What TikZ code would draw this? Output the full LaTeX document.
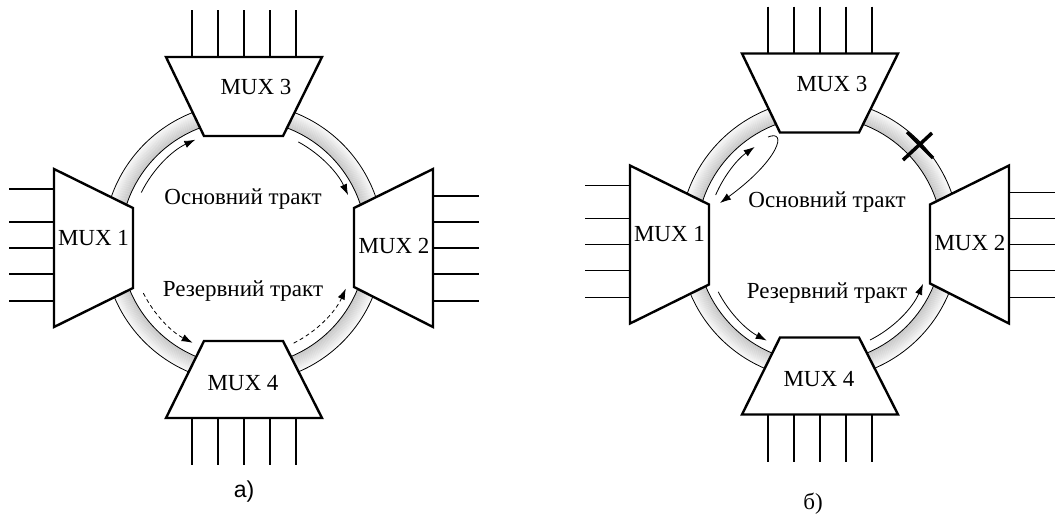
\documentclass[tikz,border=0pt]{standalone}
\usepackage{fontspec}
\setmainfont{Liberation Serif}
\newfontfamily\arialf{Liberation Sans}
\usetikzlibrary{arrows.meta,calc}
\newcommand\muxdiag[1]{%
  \coordinate (#1c) at (243.5,243);
  \foreach \i in {0,...,16} {%
    \pgfmathsetmacro\rr{123.5+\i}%
    \pgfmathsetmacro\gg{22-1.2*\i}%
    \draw[line width=1.15pt, black!\gg] (#1c) circle[radius=\rr];
  }
  \draw[ringline] (#1c) circle[radius=140] (#1c) circle[radius=123];
  % MUX 1
  \draw[mux] (54,169) -- (133,208) -- (133,288) -- (54,327) -- cycle;
  \foreach \yy in {189,222,248,274,301} \draw[io] (9,\yy) -- (54,\yy);
  \node[lbl] (#1m1) at (93.5,238) {MUX 1};
  % MUX 2
  \draw[mux] (433,169) -- (354,208) -- (354,287) -- (433,327) -- cycle;
  \foreach \yy in {196,222,248,274,301} \draw[io] (433,\yy) -- (479,\yy);
  \node[lbl] (#1m2) at (394,246) {MUX 2};
  % MUX 3
  \draw[mux] (166,57) -- (322,57) -- (283,136) -- (204,136) -- cycle;
  \foreach \xx in {192,218,244,270,296} \draw[io] (\xx,10) -- (\xx,57);
  \node[lbl] (#1m3) at (256,87) {MUX 3};
  % MUX 4
  \draw[mux] (204,341) -- (283,341) -- (322,418) -- (166,418) -- cycle;
  \foreach \xx in {192,218,244,270,296} \draw[io] (\xx,418) -- (\xx,465);
  \node[lbl] (#1m4) at (243,383) {MUX 4};
}
\begin{document}
\begin{tikzpicture}[x=1pt,y=-1pt,
  mux/.style={draw, line width=2.4pt, fill=white, line join=miter},
  io/.style={line width=1.3pt},
  ringline/.style={line width=0.8pt},
  lbl/.style={font=\fontsize{23}{25}\selectfont, inner sep=0pt},
  flow/.style={line width=0.8pt, -{Latex[length=11pt,width=7.5pt]}},
  dflow/.style={flow, dash pattern=on 4pt off 3pt}]
\useasboundingbox (0,0) rectangle (1057,523);
% ---------- a) ----------
\muxdiag{a}
\coordinate (ap1) at ($(ac)+(-153.7:114)$);
\coordinate (ap2) at ($(ac)+(-61.5:115)$);
\coordinate (ap3) at ($(ac)+(-206.6:112)$);
\coordinate (ap4) at ($(ac)+(-296.6:112)$);
\draw[flow] (ap1) arc[start angle=-153.7, end angle=-115, radius=114];
\draw[flow] (ap2) arc[start angle=-61.5, end angle=-24.6, radius=115];
\draw[dflow] (ap3) arc[start angle=-206.6, end angle=-243, radius=112];
\draw[dflow] (ap4) arc[start angle=-296.6, end angle=-336, radius=112];
\node[lbl] (amain) at (243,199) {Основний тракт};
\node[lbl] (aresv) at (243,291) {Резервний тракт};
\node[lbl, font=\arialf\fontsize{23}{25}\selectfont] (alab) at (244,492) {a)};
% ---------- б) ----------
\begin{scope}[shift={(576,-3.5)}]
\muxdiag{b}
\end{scope}
\coordinate (bp1) at ($(bc)+(-156.8:113)$);
\coordinate (bp3) at ($(bc)+(-207.3:114)$);
\coordinate (bp4) at ($(bc)+(-296.7:112.5)$);
\coordinate (bq1) at (768,137);
\coordinate (bq2) at (720,203);
\draw[flow] (bp1) arc[start angle=-156.8, end angle=-125, radius=113];
\draw[flow] (bq1) .. controls (788,129) and (779,160) .. (bq2);
\draw[flow] (bp3) arc[start angle=-207.3, end angle=-242.4, radius=114];
\draw[flow] (bp4) arc[start angle=-296.7, end angle=-336.7, radius=113];
\coordinate (bx) at (918,146);
\draw[line width=3.5pt] ($(bx)+(-15,14)$) -- ($(bx)+(14,-13)$) ($(bx)+(-11,-14)$) -- ($(bx)+(15,12)$);
\node[lbl] (bmain) at (827,202) {Основний тракт};
\node[lbl] (bresv) at (827,293) {Резервний тракт};
\node[lbl] (blab) at (813,504) {б)};
\end{tikzpicture}
\end{document}
